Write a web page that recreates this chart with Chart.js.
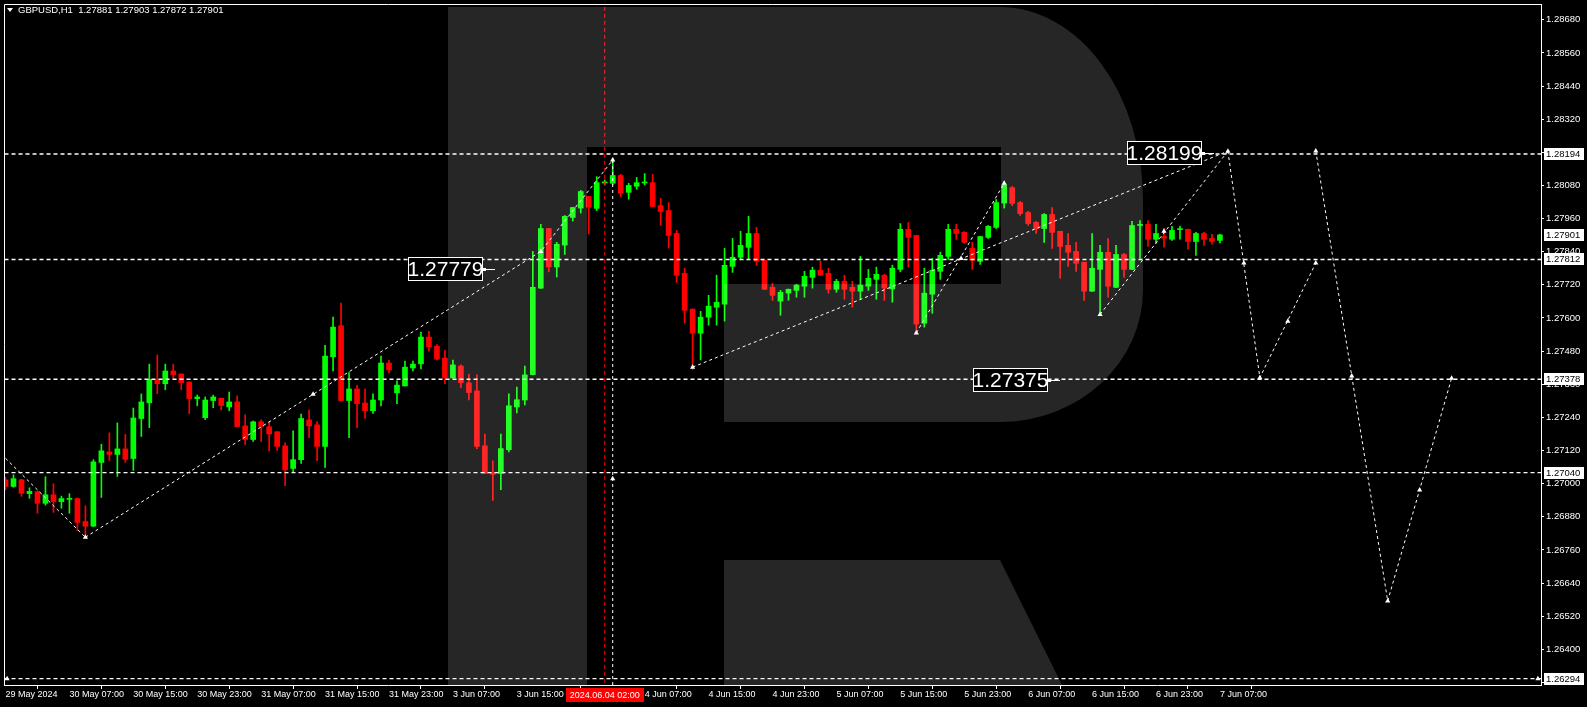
<!DOCTYPE html>
<html>
<head>
<meta charset="utf-8">
<title>GBPUSD,H1</title>
<style>
  html, body { margin: 0; padding: 0; background: #000; }
  #wrap { width: 1587px; height: 707px; }
</style>
<script src="https://cdn.jsdelivr.net/npm/chart.js@4.4.1/dist/chart.umd.min.js"></script>
</head>
<body>
<div id="wrap"><canvas id="chart" width="1587" height="707"></canvas></div>
<script>
// ── Candles: GBPUSD H1, 29 May 23:00 .. 7 Jun 07:00 (153 bars) ──
const opens = [
  1.27014,1.26990,1.27014,1.26964,1.26971,1.26929,1.26960,1.26935,1.26943,1.26946,
  1.26863,1.26846,1.27077,1.27115,1.27106,1.27126,1.27091,1.27236,1.27293,1.27376,
  1.27362,1.27408,1.27397,1.27368,1.27308,1.27239,1.27301,1.27309,1.27278,1.27296,
  1.27209,1.27160,1.27224,1.27206,1.27188,1.27137,1.27055,1.27087,1.27231,1.27213,
  1.27135,1.27460,1.27572,1.27301,1.27343,1.27292,1.27264,1.27303,1.27437,1.27329,
  1.27354,1.27419,1.27434,1.27531,1.27498,1.27455,1.27383,1.27426,1.27365,1.27336,
  1.27137,1.27040,1.27037,1.27123,1.27278,1.27303,1.27395,1.27708,1.27924,1.27785,
  1.27864,1.27964,1.27998,1.28040,1.27997,1.28089,1.28088,1.28116,1.28055,1.28077,
  1.28089,1.28090,1.28007,1.27989,1.27906,1.27762,1.27632,1.27545,1.27603,1.27639,
  1.27650,1.27787,1.27820,1.27856,1.27906,1.27809,1.27711,1.27661,1.27690,1.27700,
  1.27715,1.27747,1.27773,1.27762,1.27704,1.27733,1.27711,1.27697,1.27715,1.27740,
  1.27755,1.27705,1.27776,1.27921,1.27899,1.27581,1.27686,1.27769,1.27823,1.27921,
  1.27910,1.27852,1.27805,1.27892,1.27928,1.28016,1.28072,1.28018,1.27982,1.27946,
  1.27924,1.27975,1.27914,1.27863,1.27841,1.27802,1.27697,1.27776,1.27838,1.27711,
  1.27830,1.27776,1.27935,1.27939,1.27885,1.27895,1.27885,1.27920,1.27921,1.27877,
  1.27906,1.27888,1.27881
];
const highs = [
  1.27023,1.27032,1.27016,1.26985,1.26972,1.27025,1.27000,1.26955,1.26964,1.26949,
  1.26920,1.27087,1.27143,1.27184,1.27220,1.27179,1.27274,1.27325,1.27433,1.27466,
  1.27433,1.27433,1.27398,1.27369,1.27321,1.27314,1.27321,1.27310,1.27332,1.27318,
  1.27249,1.27227,1.27231,1.27224,1.27189,1.27148,1.27191,1.27252,1.27267,1.27225,
  1.27501,1.27603,1.27654,1.27402,1.27356,1.27343,1.27325,1.27462,1.27447,1.27372,
  1.27444,1.27444,1.27549,1.27552,1.27504,1.27484,1.27448,1.27430,1.27397,1.27394,
  1.27180,1.27083,1.27180,1.27325,1.27350,1.27426,1.27841,1.27939,1.27925,1.27874,
  1.27971,1.28001,1.28062,1.28041,1.28112,1.28100,1.28178,1.28120,1.28088,1.28109,
  1.28123,1.28120,1.28033,1.28018,1.27917,1.27780,1.27633,1.27624,1.27682,1.27755,
  1.27852,1.27888,1.27914,1.27968,1.27928,1.27810,1.27726,1.27700,1.27705,1.27722,
  1.27769,1.27784,1.27805,1.27780,1.27740,1.27755,1.27733,1.27823,1.27776,1.27784,
  1.27758,1.27791,1.27942,1.27946,1.27900,1.27780,1.27816,1.27838,1.27939,1.27939,
  1.27913,1.27874,1.27896,1.27935,1.28029,1.28094,1.28076,1.28022,1.27986,1.27950,
  1.27978,1.28000,1.27914,1.27906,1.27874,1.27802,1.27906,1.27863,1.27888,1.27863,
  1.27834,1.27950,1.27953,1.27953,1.27939,1.27924,1.27932,1.27932,1.27922,1.27910,
  1.27910,1.27903,1.27903
];
const lows = [
  1.26978,1.26987,1.26954,1.26947,1.26893,1.26922,1.26896,1.26911,1.26893,1.26830,
  1.26812,1.26845,1.26950,1.27084,1.27026,1.27077,1.27048,1.27171,1.27203,1.27326,
  1.27340,1.27378,1.27340,1.27254,1.27282,1.27232,1.27275,1.27267,1.27264,1.27206,
  1.27142,1.27153,1.27153,1.27119,1.27120,1.26993,1.27041,1.27073,1.27167,1.27083,
  1.27059,1.27408,1.27300,1.27167,1.27203,1.27236,1.27254,1.27282,1.27402,1.27290,
  1.27354,1.27408,1.27416,1.27480,1.27448,1.27362,1.27382,1.27348,1.27303,1.27127,
  1.27036,1.26939,1.26978,1.27115,1.27256,1.27285,1.27394,1.27707,1.27767,1.27748,
  1.27830,1.27951,1.27980,1.27904,1.27989,1.28082,1.28083,1.28040,1.28030,1.28066,
  1.28082,1.28003,1.27935,1.27853,1.27729,1.27581,1.27414,1.27448,1.27574,1.27574,
  1.27589,1.27765,1.27811,1.27811,1.27791,1.27703,1.27664,1.27610,1.27664,1.27675,
  1.27675,1.27708,1.27754,1.27690,1.27693,1.27668,1.27639,1.27668,1.27700,1.27668,
  1.27664,1.27657,1.27767,1.27784,1.27550,1.27567,1.27617,1.27740,1.27812,1.27885,
  1.27870,1.27776,1.27794,1.27888,1.27924,1.27998,1.28007,1.27971,1.27935,1.27906,
  1.27874,1.27852,1.27744,1.27787,1.27769,1.27664,1.27696,1.27617,1.27675,1.27710,
  1.27747,1.27775,1.27816,1.27859,1.27870,1.27856,1.27881,1.27885,1.27849,1.27827,
  1.27863,1.27867,1.27872
];
const closes = [
  1.26990,1.27018,1.26965,1.26972,1.26929,1.26960,1.26935,1.26946,1.26946,1.26860,
  1.26846,1.27079,1.27119,1.27106,1.27126,1.27088,1.27238,1.27296,1.27378,1.27362,
  1.27408,1.27395,1.27366,1.27308,1.27314,1.27303,1.27314,1.27283,1.27296,1.27207,
  1.27160,1.27224,1.27207,1.27180,1.27135,1.27050,1.27087,1.27236,1.27209,1.27135,
  1.27462,1.27567,1.27301,1.27343,1.27290,1.27264,1.27303,1.27437,1.27412,1.27357,
  1.27422,1.27433,1.27531,1.27496,1.27451,1.27383,1.27430,1.27366,1.27330,1.27135,
  1.27037,1.27034,1.27127,1.27282,1.27304,1.27394,1.27711,1.27924,1.27785,1.27867,
  1.27968,1.28000,1.28058,1.28001,1.28090,1.28091,1.28116,1.28052,1.28080,1.28090,
  1.28091,1.28004,1.27986,1.27899,1.27755,1.27628,1.27545,1.27603,1.27643,1.27657,
  1.27791,1.27820,1.27863,1.27906,1.27805,1.27704,1.27682,1.27693,1.27704,1.27719,
  1.27751,1.27773,1.27755,1.27704,1.27733,1.27704,1.27697,1.27719,1.27744,1.27758,
  1.27708,1.27780,1.27921,1.27892,1.27578,1.27690,1.27773,1.27827,1.27921,1.27906,
  1.27874,1.27809,1.27895,1.27932,1.28018,1.28082,1.28015,1.27978,1.27942,1.27924,
  1.27975,1.27910,1.27859,1.27838,1.27798,1.27697,1.27780,1.27838,1.27715,1.27830,
  1.27776,1.27935,1.27939,1.27885,1.27906,1.27889,1.27917,1.27922,1.27877,1.27906,
  1.27885,1.27877,1.27901
];

// ── Axes ──
const priceTicks = [1.2868,1.2856,1.2844,1.2832,1.2820,1.2808,1.2796,1.2784,1.2772,1.2760,1.2748,
                    1.2736,1.2724,1.2712,1.2700,1.2688,1.2676,1.2664,1.2652,1.2640,1.2628];
const timeTickIdx = [0,8,16,24,32,40,48,56,64,80,88,96,104,112,120,128,136,144,152];
const timeTickText = ['29 May 2024','30 May 07:00','30 May 15:00','30 May 23:00','31 May 07:00',
  '31 May 15:00','31 May 23:00','3 Jun 07:00','3 Jun 15:00','4 Jun 07:00','4 Jun 15:00',
  '4 Jun 23:00','5 Jun 07:00','5 Jun 15:00','5 Jun 23:00','6 Jun 07:00','6 Jun 15:00',
  '6 Jun 23:00','7 Jun 07:00'];

// ── Levels, wave lines and markers (bar index, price) ──
const levels = [1.28194, 1.27812, 1.27378, 1.27040, 1.26294];
const axisMarks = [1.28194, 1.27901, 1.27812, 1.27378, 1.27040, 1.26294];
const waveA = [[0, 1.27092], [10, 1.26806]];
const waveB = [[10, 1.26806], [67, 1.27841], [76, 1.28172]];
const waveV = [[76, 1.28172], [76, 1.26200]];
const waveD = [[86, 1.27422], [153, 1.28204]];
const waveE = [[114, 1.27546], [125, 1.28088]];
const waveF = [[137, 1.27613], [153, 1.28204]];
const fcast1 = [[153, 1.28204], [157, 1.27384], [164, 1.27799]];
const fcast2 = [[164, 1.28205], [173, 1.26575], [181, 1.27382]];
const markers = [[10,1.26806],[38.5,1.27324],[67,1.27841],[76,1.28172],[76,1.27018],[86,1.27422],
  [114,1.27546],[119.6,1.27815],[125,1.28088],[137,1.27613],[145,1.27914],[153,1.28204],
  [155,1.27799],[157,1.27384],[160.5,1.27588],[164,1.27799],[164,1.28205],[168.5,1.27390],
  [173,1.26575],[177,1.26977],[181,1.27382],[0.2,1.26294],[191.8,1.26294]];
const tagIdx = [61.3, 151.3, 132];
const tagPrice = [1.27779, 1.28199, 1.27375];
const crossIdx = 75;
const crossText = '2024.06.04 02:00';

const GREEN = '#00ff00', RED = '#ff0000';
const pts = arr => arr.map(p => ({ x: p[0], y: p[1] }));

function waveSet(arr) {
  return { type: 'line', data: pts(arr), borderColor: '#ffffff', borderWidth: 1,
           borderDash: [3, 3], pointRadius: 0, order: 2 };
}

const datasets = [];
// wicks & bodies
datasets.push({
  type: 'bar', grouped: false, order: 10, barThickness: 1,
  data: lows.map((l, i) => ({ x: i, y: [l, highs[i]] })),
  backgroundColor: closes.map((c, i) => c >= opens[i] ? GREEN : RED)
});
datasets.push({
  type: 'bar', grouped: false, order: 9, barThickness: 5, minBarLength: 1,
  data: opens.map((o, i) => ({ x: i, y: [o, closes[i]] })),
  backgroundColor: closes.map((c, i) => c >= opens[i] ? GREEN : RED)
});
// horizontal levels
levels.forEach(lv => datasets.push({
  type: 'line', order: 3, borderColor: '#ffffff', borderWidth: 1.4, borderDash: [4, 3],
  pointRadius: 0, data: [{ x: -1, y: lv }, { x: 200, y: lv }]
}));
// crosshair time line
datasets.push({
  type: 'line', order: 4, borderColor: '#ff0000', borderWidth: 1, borderDash: [4, 3],
  pointRadius: 0, data: [{ x: crossIdx, y: 1.2600 }, { x: crossIdx, y: 1.2900 }]
});
[waveA, waveB, waveV, waveD, waveE, waveF, fcast1, fcast2].forEach(w => datasets.push(waveSet(w)));
datasets.push({
  type: 'line', order: 1, showLine: false, data: pts(markers),
  pointStyle: 'triangle', pointRadius: 3, pointBackgroundColor: '#ffffff',
  pointBorderColor: '#ffffff', pointBorderWidth: 0
});

// ── Decorations drawn through the scales ──
const decor = {
  id: 'decor',
  beforeDraw(chart) {
    const ctx = chart.ctx;
    ctx.save();
    ctx.fillStyle = '#000';
    ctx.fillRect(0, 0, chart.width, chart.height);
    ctx.restore();
  },
  afterDatasetsDraw(chart) {
    const ctx = chart.ctx;
    // watermark logo
    ctx.save();
    ctx.fillStyle = 'rgba(255,255,255,0.15)';
    ctx.beginPath();
    ctx.rect(448, 7, 139, 678);
    ctx.fill();
    ctx.beginPath();
    ctx.moveTo(587, 7);
    ctx.lineTo(1000, 7);
    ctx.ellipse(1000, 200, 143, 193, 0, -Math.PI / 2, 0, false);
    ctx.lineTo(1143, 290);
    ctx.ellipse(1000, 290, 143, 132, 0, 0, Math.PI / 2, false);
    ctx.lineTo(724, 422);
    ctx.lineTo(724, 284);
    ctx.lineTo(1001, 284);
    ctx.lineTo(1001, 147);
    ctx.lineTo(587, 147);
    ctx.closePath();
    ctx.fill();
    ctx.beginPath();
    ctx.moveTo(724, 560);
    ctx.lineTo(1000, 560);
    ctx.lineTo(1062, 685);
    ctx.lineTo(724, 685);
    ctx.closePath();
    ctx.fill();
    ctx.restore();
  },
  afterDraw(chart) {
    const ctx = chart.ctx, xs = chart.scales.x, ys = chart.scales.y, a = chart.chartArea;
    ctx.save();
    // frame
    ctx.strokeStyle = '#ffffff';
    ctx.lineWidth = 1;
    ctx.beginPath();
    ctx.moveTo(a.left + 0.5, a.bottom);
    ctx.lineTo(a.left + 0.5, a.top + 0.5);
    ctx.lineTo(a.right, a.top + 0.5);
    ctx.stroke();

    // price tags on chart
    tagPrice.forEach((p, k) => {
      const ax = xs.getPixelForValue(tagIdx[k]);
      const ay = Math.round(ys.getPixelForValue(p));
      const w = 75, h = 24, bx = Math.round(ax - 12 - w), by = ay - h / 2;
      ctx.fillStyle = '#000';
      ctx.fillRect(bx, by, w, h);
      ctx.strokeStyle = '#fff';
      ctx.strokeRect(bx + 0.5, by + 0.5, w - 1, h - 1);
      ctx.fillStyle = '#fff';
      ctx.font = '21px "Liberation Sans"';
      ctx.textAlign = 'center';
      ctx.textBaseline = 'middle';
      ctx.fillText(p.toFixed(5), bx + w / 2, ay + 1);
      ctx.fillRect(bx + w, ay - 1, 3, 3);
      ctx.fillRect(bx + w + 3, ay, 9, 1);
    });

    // axis price boxes
    ctx.font = '9.5px "Liberation Sans"';
    ctx.textAlign = 'left';
    ctx.textBaseline = 'middle';
    axisMarks.forEach(p => {
      const y = Math.round(ys.getPixelForValue(p));
      ctx.fillStyle = '#fff';
      ctx.fillRect(a.right + 3, y - 6, 40, 12);
      ctx.fillStyle = '#000';
      ctx.fillText(p.toFixed(5), a.right + 5, y + 0.5);
    });

    // crosshair time box
    const cx = xs.getPixelForValue(crossIdx);
    ctx.fillStyle = '#ff0000';
    ctx.fillRect(Math.round(cx - 39), a.bottom + 3, 78, 14);
    ctx.fillStyle = '#fff';
    ctx.font = '9px "Liberation Sans"';
    ctx.textAlign = 'center';
    ctx.fillText(crossText, cx, a.bottom + 10.5);

    // header
    ctx.beginPath();
    ctx.moveTo(7, 8); ctx.lineTo(13, 8); ctx.lineTo(10, 12); ctx.closePath();
    ctx.fill();
    ctx.textAlign = 'left';
    ctx.font = '9.5px "Liberation Sans"';
    ctx.fillText('GBPUSD,H1  1.27881 1.27903 1.27872 1.27901', 18, 10.5);
    ctx.restore();
  }
};

new Chart(document.getElementById('chart'), {
  type: 'bar',
  data: { datasets },
  plugins: [decor],
  options: {
    responsive: false,
    animation: false,
    devicePixelRatio: 1,
    layout: { padding: { left: 2, top: 2, right: 0, bottom: 0 } },
    plugins: { legend: { display: false }, tooltip: { enabled: false } },
    scales: {
      x: {
        type: 'linear', offset: false,
        min: -0.1875, max: 192.1875,
        afterFit: s => { s.height = 22; s.paddingLeft = 0; s.paddingRight = 0; },
        afterBuildTicks: s => { s.ticks = timeTickIdx.map(v => ({ value: v })); },
        ticks: {
          autoSkip: false, maxRotation: 0, align: 'start', padding: 0,
          color: '#ffffff', font: { family: 'Liberation Sans', size: 9 },
          callback: v => timeTickText[timeTickIdx.indexOf(v)]
        },
        grid: { drawOnChartArea: false, drawTicks: true, tickLength: 4, color: '#ffffff' },
        border: { display: true, color: '#ffffff' }
      },
      y: {
        position: 'right',
        min: 1.26271, max: 1.28737,
        afterFit: s => { s.width = 46; s.paddingTop = 0; s.paddingBottom = 0; },
        afterBuildTicks: s => { s.ticks = priceTicks.map(v => ({ value: v })); },
        ticks: {
          autoSkip: false, padding: 2,
          color: '#ffffff', font: { family: 'Liberation Sans', size: 9.5 },
          callback: v => v.toFixed(5)
        },
        grid: { drawOnChartArea: false, drawTicks: true, tickLength: 3, color: '#ffffff' },
        border: { display: true, color: '#ffffff' }
      }
    }
  }
});
</script>
</body>
</html>
